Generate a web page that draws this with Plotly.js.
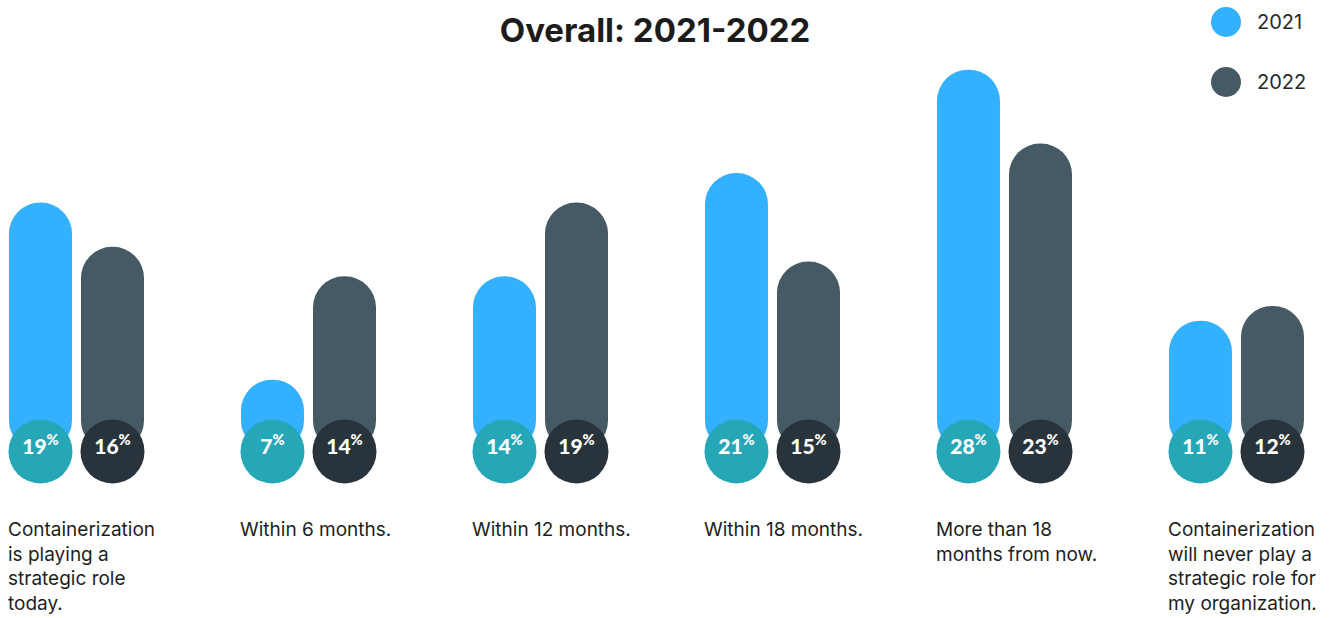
<!DOCTYPE html>
<html>
<head>
<meta charset="utf-8">
<script src="https://cdn.plot.ly/plotly-3.0.1.min.js"></script>
<style>
  html, body { margin: 0; padding: 0; background: #ffffff; }
  #chart { width: 1330px; height: 618px; }
</style>
</head>
<body>
<div id="chart"></div>
<script>
// Survey answers, one group per answer
const categories = [
  'Containerization<br>is playing a<br>strategic role<br>today.',
  'Within 6 months.',
  'Within 12 months.',
  'Within 18 months.',
  'More than 18<br>months from now.',
  'Containerization<br>will never play a<br>strategic role for<br>my organization.'
];
const seriesNames = ['2021', '2022'];
const values2021 = [19, 7, 14, 21, 28, 11];
const values2022 = [16, 14, 19, 15, 23, 12];

// Styling
const barColors = ['#33b1ff', '#465a65'];
const capColors = ['#26a7b8', '#28333b'];
const BAR_W = 0.2716;        // bar width, in group units
const HALF_GAP = 0.0194;     // half the gap between the two bars of a group
const CAP = 2.134;           // radius of the bottom disc, in value units
const CAP_PX = 64;           // disc diameter in px
const LABEL_LIFT = 0.2;      // value labels sit a touch above the disc centre
const labelFont = 'Inter, "Noto Sans", sans-serif';

const idx = categories.map((_, i) => i);
const series = [values2021, values2022];

const traces = [];
series.forEach((vals, s) => {
  const offset = s === 0 ? -(BAR_W + HALF_GAP) : HALF_GAP;
  traces.push({
    type: 'bar',
    name: seriesNames[s],
    x: idx,
    y: vals.map(v => v - CAP),
    base: CAP,
    width: BAR_W,
    offset: offset,
    marker: { color: barColors[s], cornerradius: '50%', line: { width: 0 } },
    hoverinfo: 'skip',
    showlegend: false
  });
});
series.forEach((vals, s) => {
  const shift = s === 0 ? -(BAR_W / 2 + HALF_GAP) : (BAR_W / 2 + HALF_GAP);
  traces.push({
    type: 'scatter',
    mode: 'markers',
    name: seriesNames[s],
    x: idx.map(i => i + shift),
    y: idx.map(() => CAP),
    marker: { size: CAP_PX, color: capColors[s], line: { width: 0 } },
    cliponaxis: false,
    hoverinfo: 'skip',
    showlegend: false
  });
  traces.push({
    type: 'scatter',
    mode: 'text',
    name: seriesNames[s],
    x: idx.map(i => i + shift),
    y: idx.map(() => CAP + LABEL_LIFT),
    text: vals.map(v => v + '<sup>%</sup>'),
    textposition: 'middle center',
    textfont: { family: 'Lato, "Open Sans", sans-serif', size: 21, color: '#ffffff', weight: 900 },
    cliponaxis: false,
    hoverinfo: 'skip',
    showlegend: false
  });
});

// Answer labels under each group, left-aligned with the first bar
const annotations = categories.map((c, i) => ({
  x: i - (BAR_W + HALF_GAP) - 0.013,
  xref: 'x',
  y: -0.077,
  yref: 'paper',
  xanchor: 'left',
  yanchor: 'top',
  align: 'left',
  showarrow: false,
  text: c,
  font: { family: labelFont, size: 19, color: '#1e1e1e' }
}));

// Legend: round swatches with year labels
const legendY = [1.0898, 0.948];
const shapes = [];
seriesNames.forEach((n, s) => {
  shapes.push({
    type: 'circle',
    xref: 'paper', yref: 'paper',
    xsizemode: 'pixel', ysizemode: 'pixel',
    xanchor: 1226 / 1330, yanchor: legendY[s],
    x0: -15, x1: 15, y0: -15, y1: 15,
    fillcolor: barColors[s],
    line: { width: 0 }
  });
  annotations.push({
    x: 1255 / 1330, xref: 'paper',
    y: legendY[s], yref: 'paper',
    xanchor: 'left', yanchor: 'middle',
    showarrow: false,
    text: n,
    font: { family: labelFont, size: 20, color: '#2a2a2a' }
  });
});

const layout = {
  width: 1330,
  height: 618,
  margin: { l: 0, r: 0, t: 60, b: 135, pad: 0 },
  paper_bgcolor: '#ffffff',
  plot_bgcolor: '#ffffff',
  showlegend: false,
  title: {
    text: '<b>Overall: 2021-2022</b>',
    font: { family: labelFont, size: 33, color: '#1c1c1c' },
    x: 655 / 1330, xanchor: 'center', xref: 'paper',
    y: 1 - 30 / 618, yanchor: 'middle'
  },
  xaxis: {
    range: [-0.3297, 5.4031],
    visible: false, showgrid: false, zeroline: false, fixedrange: true
  },
  yaxis: {
    range: [0, 28.66],
    visible: false, showgrid: false, zeroline: false, fixedrange: true
  },
  shapes: shapes,
  annotations: annotations
};

Plotly.newPlot('chart', traces, layout, { displayModeBar: false, staticPlot: true });
</script>
</body>
</html>
